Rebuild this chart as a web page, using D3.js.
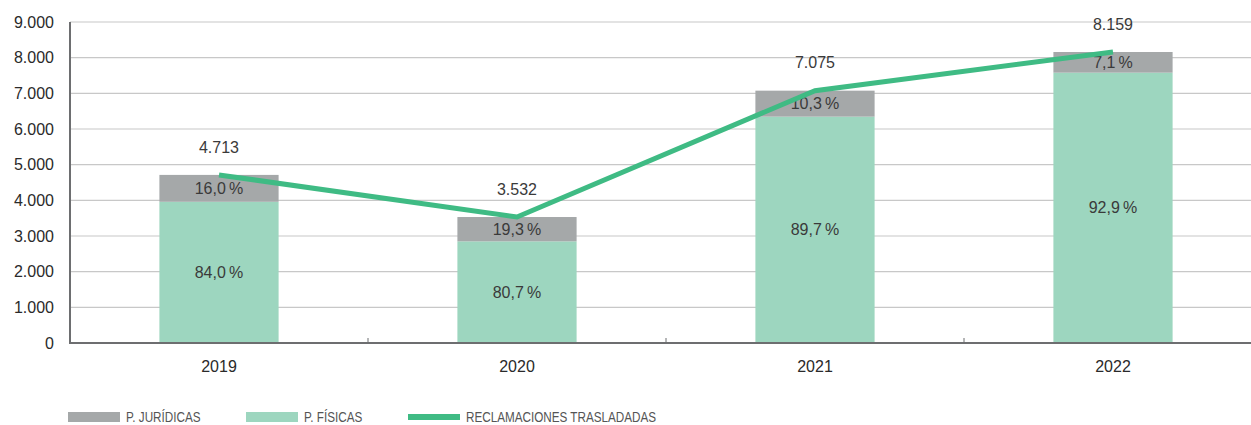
<!DOCTYPE html>
<html>
<head>
<meta charset="utf-8">
<script src="https://cdn.jsdelivr.net/npm/d3@7"></script>
<style>
  body { margin: 0; background: #fff; }
  svg text { font-family: "Liberation Sans", Arial, sans-serif; }
</style>
</head>
<body>
<script>
// data
const years = ["2019", "2020", "2021", "2022"];
const totals = [4713, 3532, 7075, 8159];
const pctFisicas = [84.0, 80.7, 89.7, 92.9];
const pctJuridicas = [16.0, 19.3, 10.3, 7.1];
const yTicks = [0, 1000, 2000, 3000, 4000, 5000, 6000, 7000, 8000, 9000];

// constants
const width = 1251;
const height = 425;
const colJur = "#a5a8a9";
const colFis = "#9dd6bf";
const colLine = "#3fbb84";

const fmt = v => d3.format(",")(v).replace(/,/g, ".");
const fmtPct = v => v.toFixed(1).replace(".", ",") + "\u2009%";

const svg = d3.select("body").append("svg")
    .attr("width", width)
    .attr("height", height);

const x = d3.scaleBand()
    .domain(years)
    .range([70, 1262])
    .paddingInner(0)
    .paddingOuter(0);

const y = d3.scaleLinear()
    .domain([0, 9000])
    .range([343, 22]);

const barW = x.bandwidth() * 0.4;

// gridlines
svg.append("g")
    .selectAll("line")
    .data(yTicks.slice(1))
    .join("line")
    .attr("x1", 70)
    .attr("x2", width)
    .attr("y1", d => y(d))
    .attr("y2", d => y(d))
    .style("stroke", "#c8c8c8")
    .style("stroke-width", 1.2);

// y tick labels
svg.append("g")
    .selectAll("text")
    .data(yTicks)
    .join("text")
    .attr("x", 54)
    .attr("y", d => y(d))
    .attr("dy", "0.35em")
    .attr("text-anchor", "end")
    .style("font-size", "16px")
    .style("fill", "#2a2a2a")
    .text(d => fmt(d));

// bars
const rows = years.map((yr, i) => ({
    year: yr,
    total: totals[i],
    fis: totals[i] * pctFisicas[i] / 100,
    pf: pctFisicas[i],
    pj: pctJuridicas[i]
}));

const bars = svg.append("g");
bars.selectAll(".fis")
    .data(rows)
    .join("rect")
    .attr("class", "fis")
    .attr("x", d => x(d.year) + x.bandwidth() / 2 - barW / 2)
    .attr("width", barW)
    .attr("y", d => y(d.fis))
    .attr("height", d => y(0) - y(d.fis))
    .style("fill", colFis);

bars.selectAll(".jur")
    .data(rows)
    .join("rect")
    .attr("class", "jur")
    .attr("x", d => x(d.year) + x.bandwidth() / 2 - barW / 2)
    .attr("width", barW)
    .attr("y", d => y(d.total))
    .attr("height", d => y(d.fis) - y(d.total))
    .style("fill", colJur);

// axes lines
svg.append("line")
    .attr("x1", 70).attr("x2", 70)
    .attr("y1", y(9000)).attr("y2", y(0) + 1)
    .style("stroke", "#6d6e70").style("stroke-width", 2);

svg.append("line")
    .attr("x1", 69).attr("x2", width)
    .attr("y1", y(0)).attr("y2", y(0))
    .style("stroke", "#6d6e70").style("stroke-width", 2);

// category separators
svg.append("g")
    .selectAll("line")
    .data(years.slice(1))
    .join("line")
    .attr("x1", d => x(d)).attr("x2", d => x(d))
    .attr("y1", y(0) - 5).attr("y2", y(0))
    .style("stroke", "#6d6e70").style("stroke-width", 1);

// x labels
svg.append("g")
    .selectAll("text")
    .data(years)
    .join("text")
    .attr("x", d => x(d) + x.bandwidth() / 2)
    .attr("y", 366)
    .attr("dy", "0.35em")
    .attr("text-anchor", "middle")
    .style("font-size", "16px")
    .style("fill", "#2a2a2a")
    .text(d => d);

// percentage labels
const labels = svg.append("g")
    .style("font-size", "16px")
    .style("fill", "#3a3a3a")
    .attr("text-anchor", "middle");

labels.selectAll(".pf")
    .data(rows)
    .join("text")
    .attr("x", d => x(d.year) + x.bandwidth() / 2)
    .attr("y", d => (y(0) + y(d.fis)) / 2)
    .attr("dy", "0.35em")
    .text(d => fmtPct(d.pf));

labels.selectAll(".pj")
    .data(rows)
    .join("text")
    .attr("x", d => x(d.year) + x.bandwidth() / 2)
    .attr("y", d => (y(d.fis) + y(d.total)) / 2)
    .attr("dy", "0.35em")
    .text(d => fmtPct(d.pj));

// line
const line = d3.line()
    .x(d => x(d.year) + x.bandwidth() / 2)
    .y(d => y(d.total));

svg.append("path")
    .datum(rows)
    .attr("d", line)
    .style("fill", "none")
    .style("stroke", colLine)
    .style("stroke-width", 5);

// total labels
labels.selectAll(".tot")
    .data(rows)
    .join("text")
    .attr("x", d => x(d.year) + x.bandwidth() / 2)
    .attr("y", d => y(d.total) - 28)
    .attr("dy", "0.35em")
    .text(d => fmt(d.total));

// legend
const legendItems = [
    { name: "P. JURÍDICAS", color: colJur, h: 10, x: 68 },
    { name: "P. FÍSICAS", color: colFis, h: 10, x: 246 },
    { name: "RECLAMACIONES TRASLADADAS", color: colLine, h: 6, x: 408 }
];

const legend = svg.append("g")
    .selectAll("g")
    .data(legendItems)
    .join("g")
    .attr("transform", d => `translate(${d.x},417)`);

legend.append("rect")
    .attr("x", 0)
    .attr("y", d => -d.h / 2)
    .attr("width", 52)
    .attr("height", d => d.h)
    .style("fill", d => d.color);

// condensed look: squeeze the text horizontally
legend.append("text")
    .attr("transform", "translate(58,0) scale(0.78,1)")
    .attr("dy", "0.35em")
    .style("font-size", "15px")
    .style("fill", "#555")
    .text(d => d.name);
</script>
</body>
</html>
